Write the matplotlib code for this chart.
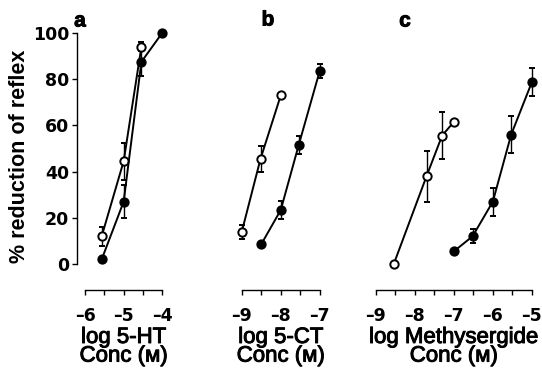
import numpy as np
import matplotlib
matplotlib.use("Agg")
import matplotlib.pyplot as plt
import matplotlib.patheffects as pe

plt.rcParams['font.family'] = ['Liberation Sans', 'DejaVu Sans']

# Painel a: 5-HT
a_aberto_x = [-5.57, -5.0, -4.54]
a_aberto_y = [12, 44.5, 94]
a_aberto_err = [4, 8, 2]
a_cheio_x = [-5.57, -5.0, -4.54, -4.0]
a_cheio_y = [2, 27, 87.5, 100]
a_cheio_err = [0, 7, 6, 0]

# Painel b: 5-CT
b_aberto_x = [-9.0, -8.52, -8.0]
b_aberto_y = [14, 45.5, 73]
b_aberto_err = [3, 5.5, 0]
b_cheio_x = [-8.5, -8.0, -7.54, -7.0]
b_cheio_y = [8.6, 23.4, 51.5, 83.6]
b_cheio_err = [0, 4, 4, 3]

# Painel c: metisergida
c_aberto_x = [-8.54, -7.7, -7.3, -7.0]
c_aberto_y = [0, 38, 55.6, 61.5]
c_aberto_err = [0, 11, 10, 0]
c_cheio_x = [-7.0, -6.52, -6.0, -5.53, -5.0]
c_cheio_y = [5.5, 12, 27, 56, 78.7]
c_cheio_err = [0, 3, 6, 8, 6]

paineis = [
    dict(letra='a', xlim=(-6.21, -3.85), ticks=[-6, -5, -4], menores=[-5.5, -4.5],
         rotulo='log 5-HT\nConc (\u1d0d)',
         aberto=(a_aberto_x, a_aberto_y, a_aberto_err),
         cheio=(a_cheio_x, a_cheio_y, a_cheio_err)),
    dict(letra='b', xlim=(-9.2, -6.85), ticks=[-9, -8, -7], menores=[-8.5, -7.5],
         rotulo='log 5-CT\nConc (\u1d0d)',
         aberto=(b_aberto_x, b_aberto_y, b_aberto_err),
         cheio=(b_cheio_x, b_cheio_y, b_cheio_err)),
    dict(letra='c', xlim=(-9.2, -4.85), ticks=[-9, -8, -7, -6, -5],
         menores=[-8.5, -7.5, -6.5, -5.5],
         rotulo='log Methysergide\nConc (\u1d0d)',
         aberto=(c_aberto_x, c_aberto_y, c_aberto_err),
         cheio=(c_cheio_x, c_cheio_y, c_cheio_err)),
]

W, H = 542, 368
fig = plt.figure(figsize=(W / 100, H / 100), dpi=100)

# posições em pixels: esquerda, largura
posicoes = [(77, 91), (234, 91.6), (368, 169.7)]
topo_px, base_px = 23.7, 289.5
engrossar = [pe.withStroke(linewidth=0.7, foreground='black')]
fonte_ticks = dict(family='DejaVu Sans', weight='bold', size=12.5)

for i, (p, (esq, larg)) in enumerate(zip(paineis, posicoes)):
    ax = fig.add_axes([esq / W, (H - base_px) / H, larg / W, (base_px - topo_px) / H])
    ax.set_xlim(*p['xlim'])
    ax.set_ylim(-11, 104)

    for chave, cor in [('aberto', 'white'), ('cheio', 'black')]:
        x, y, e = p[chave]
        ax.errorbar(x, y, yerr=e, color='black', lw=1.4, elinewidth=1.0,
                    capsize=2, capthick=1.0, marker='o', ms=6,
                    mfc=cor, mec='black', mew=1.4, zorder=3)

    for lado in ['top', 'right']:
        ax.spines[lado].set_visible(False)
    ax.spines['bottom'].set_bounds(p['ticks'][0], p['ticks'][-1])
    ax.spines['bottom'].set_linewidth(1.0)
    ax.set_xticks(p['ticks'])
    ax.set_xticks(p['menores'], minor=True)
    ax.set_xticklabels(['\u2013%d' % abs(t) for t in p['ticks']], fontdict=fonte_ticks)
    ax.tick_params(axis='x', which='both', direction='out', length=3.5, width=1.0,
                   pad=9)

    # rótulo centrado no trecho com marcas
    meio = (np.mean([p['ticks'][0], p['ticks'][-1]]) - p['xlim'][0]) / (p['xlim'][1] - p['xlim'][0])
    ax.set_xlabel(p['rotulo'], fontsize=16, linespacing=0.85,
                  path_effects=engrossar)
    ax.xaxis.set_label_coords(meio, -0.141)

    if i == 0:
        ax.spines['left'].set_bounds(0, 100)
        ax.spines['left'].set_linewidth(1.0)
        ax.set_yticks([0, 20, 40, 60, 80, 100])
        ax.set_yticklabels(['0', '20', '40', '60', '80', '100'], fontdict=fonte_ticks)
        ax.tick_params(axis='y', direction='out', length=3.5, width=1.0, pad=2)
        ax.set_ylabel('% reduction of reflex', fontsize=15.5, fontweight='bold',
                      labelpad=2)
    else:
        ax.spines['left'].set_visible(False)
        ax.set_yticks([])

    ax.patch.set_alpha(0)

# letras dos painéis
for letra, (px, py) in zip(['a', 'b', 'c'], [(80, 21), (268, 20), (405, 21)]):
    fig.text(px / W, 1 - py / H, letra, fontsize=15, fontweight='bold',
             ha='center', va='center', path_effects=engrossar)

fig.savefig('out.png', dpi=100)
